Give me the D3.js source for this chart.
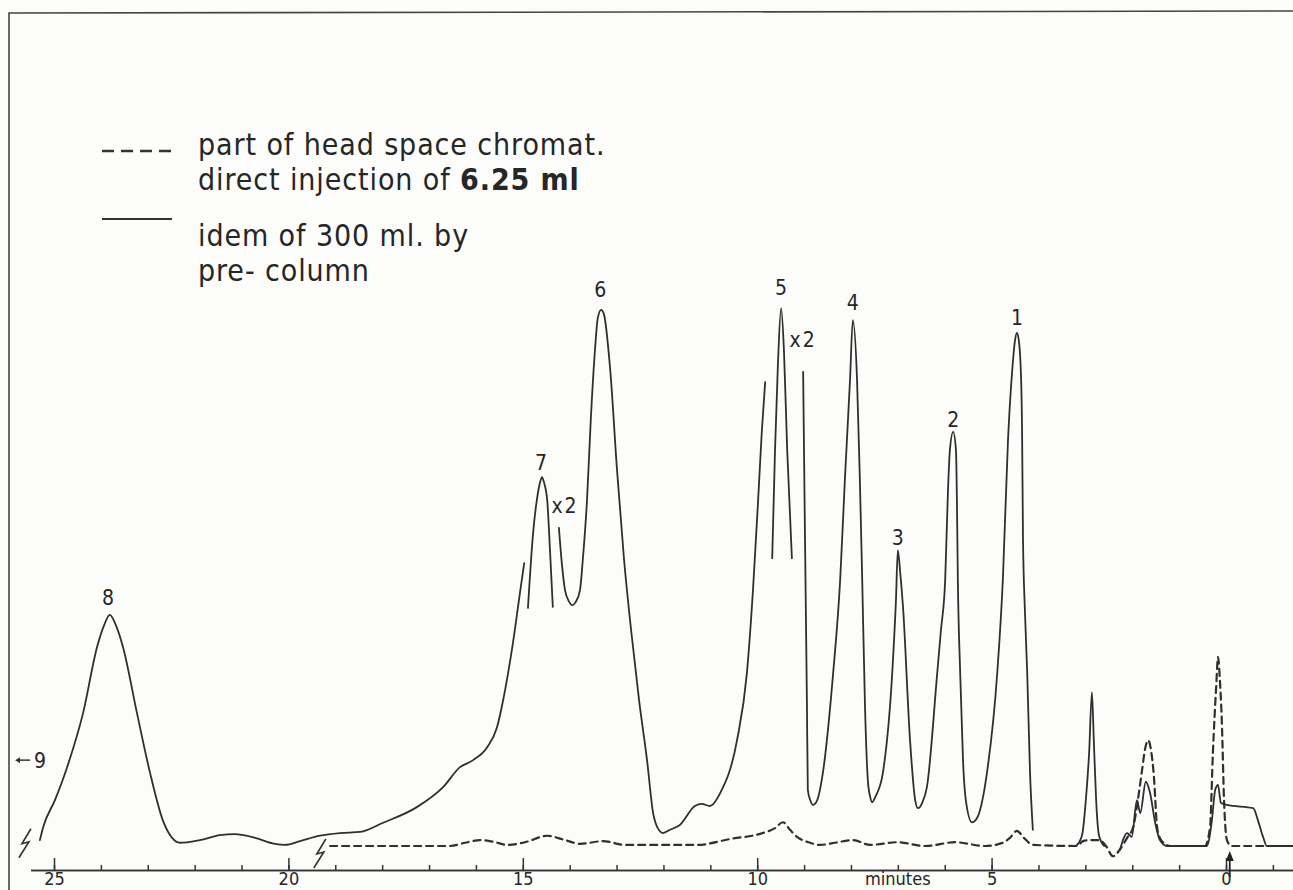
<!DOCTYPE html>
<html>
<head>
  <meta charset="utf-8">
  <title>Head space chromatogram</title>
  <script src="https://d3js.org/d3.v7.min.js"></script>
  <style>
    body { margin: 0; overflow: hidden; background: #fcfcfa; }
    text { font-family: "DejaVu Sans Condensed", "DejaVu Sans", sans-serif; fill: #262626; }
    .trace { fill: none; stroke: #2f2f2f; stroke-linejoin: round; stroke-linecap: round; }
  </style>
</head>
<body>
<svg width="1293" height="890"></svg>
<script>
// --- data: retention time (minutes), detector response (arbitrary units) ---

// solid trace (300 ml via pre-column), pen lifted at attenuation changes
const solidLeft = [[25.30,1.1],[25.23,3.5],[24.98,8.5],[24.72,14.6],[24.38,24.6],[24.08,36.9],[23.93,40.9],[23.81,42.8],
  [23.68,40.9],[23.53,36.9],[23.23,24.6],[22.95,13.5],[22.68,4.8],[22.48,1.5],[22.31,0.6],[21.89,1.1],[21.46,2.0],
  [21.14,2.2],[20.71,1.5],[20.29,0.4],[20.07,0.2],[19.75,0.9],[19.33,1.9],[18.90,2.4],[18.47,2.6],[17.98,4.3],
  [17.26,7.2],[16.70,10.9],[16.34,14.6],[16.06,15.9],[15.76,18.3],[15.55,22.0],[15.42,27.0],[15.32,31.7],
  [15.21,37.6],[15.06,46.9],[14.97,52.4]];
const solidPeak7 = [[14.89,44.1],[14.78,58.0],[14.70,64.1],[14.63,67.4],[14.59,68.3],[14.55,67.4],[14.48,64.1],
  [14.42,54.8],[14.36,44.3]];
const solidPeak6 = [[14.23,58.9],[14.16,51.7],[14.10,47.4],[14.01,45.2],[13.95,44.6],[13.87,45.2],[13.78,47.4],
  [13.72,53.0],[13.63,64.1],[13.55,78.9],[13.46,91.9],[13.40,97.8],[13.33,99.3],[13.27,98.5],[13.14,88.7],
  [12.99,69.6],[12.84,53.0],[12.69,40.0],[12.52,27.0],[12.35,15.9],[12.22,6.1],[12.12,3.3],[12.01,2.4],[11.86,3.0],
  [11.65,3.9],[11.33,7.4],[11.18,7.8],[11.01,7.4],[10.79,9.8],[10.43,19.6],[10.22,32.0],[10.09,47.4],[9.98,64.1],
  [9.90,77.0],[9.83,85.9]];
const solidPeak5 = [[9.68,53.3],[9.62,73.3],[9.56,88.7],[9.49,99.6],[9.43,91.9],[9.36,73.3],[9.26,53.3]];
const solidPeaks4to1 = [[9.02,87.8],[8.98,56.7],[8.94,27.0],[8.92,10.4],[8.87,8.5],[8.81,7.6],[8.72,8.5],[8.60,13.5],
  [8.38,32.0],[8.23,49.3],[8.13,67.8],[8.02,86.3],[7.96,97.4],[7.87,86.3],[7.81,67.8],[7.76,49.3],[7.70,25.7],
  [7.64,12.2],[7.59,9.1],[7.55,8.1],[7.47,9.3],[7.32,13.5],[7.12,32.0],[7.04,45.6],[7.00,54.8],[6.95,50.7],
  [6.89,44.3],[6.74,19.6],[6.63,8.5],[6.57,7.0],[6.48,8.0],[6.38,10.9],[6.16,32.0],[6.08,40.0],[5.99,49.3],
  [5.93,65.9],[5.89,73.3],[5.82,76.7],[5.76,73.3],[5.74,64.1],[5.72,49.3],[5.67,32.0],[5.61,15.9],[5.55,8.5],
  [5.42,4.4],[5.31,5.2],[5.10,13.5],[4.88,32.0],[4.76,49.3],[4.65,75.2],[4.56,88.1],[4.50,93.7],[4.46,95.0],
  [4.42,93.7],[4.37,86.3],[4.35,77.0],[4.33,56.7],[4.29,43.7],[4.24,32.0],[4.18,13.5],[4.12,3.0]];
const solidSmall = [[3.20,0],[3.07,2.0],[2.99,8.5],[2.92,17.2],[2.86,28.5],[2.82,19.6],[2.77,8.5],[2.71,2.0],[2.60,0]];
const solidEnd = [[2.26,-0.7],[2.18,1.5],[2.11,2.4],[2.01,1.7],[1.90,8.5],[1.83,6.1],[1.71,11.9],[1.62,9.8],
  [1.51,4.3],[1.41,1.1],[1.26,0],[0.41,0],[0.30,4.8],[0.23,10.4],[0.17,11.3],[0.11,8.0],[-0.02,7.6],[-0.58,7.0],
  [-0.68,4.8],[-0.79,1.7],[-0.87,0],[-1.43,0]];

// dashed trace (head space, direct injection of 6.25 ml)
const dashedTrace = [[19.11,0],[16.55,0],[16.23,0.6],[15.91,1.1],[15.59,0.7],[15.34,0.2],[14.95,0.7],[14.48,1.9],
  [14.10,1.1],[13.78,0.4],[13.29,0.9],[12.82,0.2],[11.28,0.2],[10.58,1.3],[9.88,2.4],[9.62,3.3],[9.45,4.4],
  [9.30,3.0],[9.15,1.7],[8.87,0.6],[8.66,0.2],[8.34,0.6],[7.96,1.1],[7.59,0.2],[7.02,0.7],[6.42,0],[5.78,0.7],
  [5.14,0],[4.76,0.6],[4.61,1.5],[4.46,2.8],[4.31,1.5],[4.12,0.2],[3.18,0],[3.05,0.9],[2.90,1.1],[2.69,1.1],
  [2.56,0],[2.41,-1.9],[2.26,-0.6],[2.11,1.5],[1.98,3.5],[1.88,8.5],[1.79,14.1],[1.73,17.8],[1.66,19.6],
  [1.60,17.8],[1.54,13.1],[1.47,3.5],[1.41,1.5],[1.30,0.4],[1.19,0],[0.45,0],[0.34,3.5],[0.28,17.2],[0.21,29.4],
  [0.17,35.0],[0.13,30.7],[0.09,23.3],[0.04,8.0],[-0.02,1.1],[-0.11,0],[-1.43,0]];

// peak numbers and attenuation notes: [text, minutes, response]
const peakLabels = [["8",23.85,44.6],["7",14.61,69.6],["6",13.35,101.7],["5",9.49,102.0],["4",7.96,99.3],
  ["3",7.00,55.7],["2",5.82,77.6],["1",4.46,96.5]];
const attenLabels = [["x2",14.10,61.7],["x2",9.02,92.4]];
// pen-break marks [minutes, response]
const breakMarks = [[25.62,0.6],[19.33,-1.3]];

const majorTicks = [25,20,15,10,5,0];
const minorTicks = d3.range(-1, 26);

// --- drawing ---
const svg = d3.select("svg");
const x = d3.scaleLinear().domain([25, 0]).range([54, 1226]);
const y = d3.scaleLinear().domain([0, 100]).range([846, 306]);
const axisY = 870;

// frame
svg.append("path").attr("d", "M9,890 L9,13 L1293,11")
  .attr("fill", "none").attr("stroke", "#444").attr("stroke-width", 1.6);

const line = d3.line().x(d => x(d[0])).y(d => y(d[1])).curve(d3.curveMonotoneX);

[solidLeft, solidPeak7, solidPeak6, solidPeak5, solidPeaks4to1, solidSmall, solidEnd].forEach(seg => {
  svg.append("path").datum(seg).attr("class", "trace").attr("d", line).attr("stroke-width", 1.8);
});
svg.append("path").datum(dashedTrace).attr("class", "trace").attr("d", line)
  .attr("stroke-width", 2.2).attr("stroke-dasharray", "7,5").attr("stroke-linecap", "butt");

// labels
svg.selectAll(".peak").data(peakLabels).join("text").attr("class", "peak")
  .attr("x", d => x(d[1])).attr("y", d => y(d[2])).attr("text-anchor", "middle")
  .attr("font-size", 21).text(d => d[0]);
svg.selectAll(".atten").data(attenLabels).join("text").attr("class", "atten")
  .attr("x", d => x(d[1])).attr("y", d => y(d[2])).attr("text-anchor", "middle")
  .attr("font-size", 21).attr("letter-spacing", 2).text(d => d[0]);

// pen-break zigzags
svg.selectAll(".brk").data(breakMarks).join("path").attr("class", "brk")
  .attr("d", d => {
    const cx = x(d[0]), cy = y(d[1]);
    return `M${cx + 6},${cy - 14} L${cx - 3},${cy + 1} L${cx + 4},${cy - 1} L${cx - 6},${cy + 15}`;
  })
  .attr("fill", "none").attr("stroke", "#333").attr("stroke-width", 1.6);

// "<- 9" marker (peak 9 off scale to the left)
const nine = [25.51, 15.9];
svg.append("line").attr("x1", x(nine[0])).attr("x2", x(nine[0]) - 12)
  .attr("y1", y(nine[1])).attr("y2", y(nine[1])).attr("stroke", "#333").attr("stroke-width", 1.5);
svg.append("path").attr("d", `M${x(nine[0]) - 15},${y(nine[1])} l5,-3 l0,6 z`).attr("fill", "#333");
svg.append("text").attr("x", x(nine[0]) + 4).attr("y", y(nine[1]) + 8).attr("font-size", 21).text("9");

// x axis, ticks pointing up, labels below
const axisScale = x.copy().domain([25.5, -1.43]).range([x(25.5), x(-1.43)]);
const gMinor = svg.append("g").attr("transform", `translate(0,${axisY})`)
  .call(d3.axisBottom(axisScale).tickValues(minorTicks).tickSize(-5).tickSizeOuter(0).tickFormat(""));
const gMajor = svg.append("g").attr("transform", `translate(0,${axisY})`)
  .call(d3.axisBottom(axisScale).tickValues(majorTicks).tickSize(-12).tickSizeOuter(0).tickPadding(2));
[gMinor, gMajor].forEach(g => {
  g.selectAll("path, line").attr("stroke", "#333").attr("stroke-width", 1.5);
  g.selectAll("text").attr("font-size", 18).attr("font-family", "DejaVu Sans Condensed").attr("fill", "#262626");
});
svg.append("text").attr("x", x(7.0)).attr("y", 885).attr("text-anchor", "middle")
  .attr("font-size", 18).text("minutes");

// injection arrow at t = 0
const ax = x(-0.08);
svg.append("line").attr("x1", ax).attr("x2", ax).attr("y1", axisY + 7).attr("y2", 860)
  .attr("stroke", "#222").attr("stroke-width", 1.8);
svg.append("path").attr("d", `M${ax},851 l-4,10 l8,0 z`).attr("fill", "#222");

// legend
const leg = svg.append("g");
leg.append("line").attr("x1", 102).attr("x2", 172).attr("y1", 151).attr("y2", 151)
  .attr("stroke", "#333").attr("stroke-width", 2.4).attr("stroke-dasharray", "12,7");
leg.append("line").attr("x1", 102).attr("x2", 172).attr("y1", 219).attr("y2", 219)
  .attr("stroke", "#333").attr("stroke-width", 2.2);
const t1 = leg.append("text").attr("x", 198).attr("y", 155).attr("font-size", 30).attr("letter-spacing", 0.9);
t1.append("tspan").text("part of  head space chromat.");
t1.append("tspan").attr("x", 198).attr("dy", 35).text("direct injection of ");
t1.append("tspan").attr("font-weight", "bold").text("6.25 ml");
const t2 = leg.append("text").attr("x", 198).attr("y", 246).attr("font-size", 30).attr("letter-spacing", 0.9);
t2.append("tspan").text("idem of  300 ml. by");
t2.append("tspan").attr("x", 198).attr("dy", 35).text("pre- column");
</script>
</body>
</html>
